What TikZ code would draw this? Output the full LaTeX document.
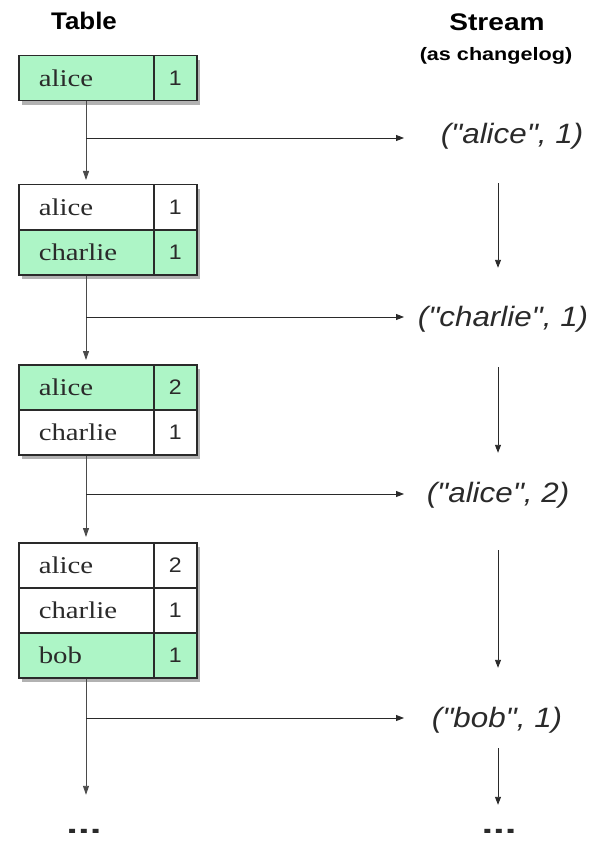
\documentclass[tikz,border=0pt]{standalone}
\usepackage{fontspec}
\setmainfont{Liberation Sans}
\newfontfamily\namefont{Liberation Serif}
\newfontfamily\evtfont[Ligatures=TeXOff]{Liberation Sans}
\usepackage{graphicx}
\usetikzlibrary{arrows.meta,shadows}
\definecolor{mint}{HTML}{ADF5C6}
\definecolor{ink}{HTML}{2A2A2A}
\newcommand\cellname[1]{\scalebox{1.2}[1]{\namefont\fontsize{24}{24}\selectfont #1}}
\newcommand\cellval[1]{\scalebox{1.1}[1]{\fontsize{21}{21}\selectfont #1}}
\newcommand\evtext[1]{\scalebox{1.12}[1]{\evtfont\fontsize{28}{28}\selectfont\itshape #1}}
\newcommand\dotstext{\scalebox{1.5}[1]{\fontsize{28}{28}\selectfont\bfseries ...}}
\begin{document}
\begin{tikzpicture}[x=1pt,y=-1pt,
  tbox/.style={fill=white, draw=ink, line width=1.5pt, inner sep=0pt,
    minimum width=178pt, anchor=north west,
    drop shadow={shadow xshift=3pt, shadow yshift=-4pt, opacity=0.3, fill=black}},
  ncell/.style={anchor=north west, draw=ink, line width=1.5pt,
    minimum width=135pt, minimum height=45pt, inner xsep=20pt, inner ysep=0pt,
    text width=95pt, align=left, text=ink},
  vcell/.style={anchor=north west, draw=ink, line width=1.5pt,
    minimum width=43pt, minimum height=45pt, inner sep=0pt, align=center, text=ink},
  evt/.style={inner sep=0pt, text height=21pt, text depth=7pt, text=ink},
  dotsnode/.style={inner sep=0pt, text height=4pt, text depth=0pt, text=ink},
  arr/.style={draw=ink, line width=0.9pt, -{Triangle[length=8pt,width=6pt]}},
  hl/.style={draw=ink!85, line width=0.9pt, -{Triangle[length=9pt,width=6pt]}}]
\useasboundingbox (0,0) rectangle (589,842);

% headings
\node (htable) at (84,21) {\scalebox{1.08}[1]{\fontsize{24}{24}\selectfont\bfseries Table}};
\node (hstream) at (497,22) {\scalebox{1.17}[1]{\fontsize{24}{24}\selectfont\bfseries Stream}};
\node (hlog) at (496,56) {\scalebox{1.2}[1]{\fontsize{18}{18}\selectfont\bfseries (as changelog)}};

% helper coordinates
\coordinate (vx) at (86,0);
\coordinate (sx) at (498,0);
\coordinate (ax) at (404,0);
\coordinate (j1) at (86,138);
\coordinate (j2) at (86,317);
\coordinate (j3) at (86,494);
\coordinate (j4) at (86,718);

% table 1
\node[tbox, minimum height=45pt] (t1) at (18,55) {};
\node[ncell, fill=mint] (t1a) at (18,55) {\cellname{alice}};
\node[vcell, fill=mint] (t1av) at (153,55) {\cellval{1}};

% table 2
\node[tbox, minimum height=90pt] (t2) at (18,184) {};
\node[ncell, fill=white] (t2a) at (18,184) {\cellname{alice}};
\node[vcell, fill=white] (t2av) at (153,184) {\cellval{1}};
\node[ncell, fill=mint] (t2b) at (18,229) {\cellname{charlie}};
\node[vcell, fill=mint] (t2bv) at (153,229) {\cellval{1}};

% table 3
\node[tbox, minimum height=90pt] (t3) at (18,364) {};
\node[ncell, fill=mint] (t3a) at (18,364) {\cellname{alice}};
\node[vcell, fill=mint] (t3av) at (153,364) {\cellval{2}};
\node[ncell, fill=white] (t3b) at (18,409) {\cellname{charlie}};
\node[vcell, fill=white] (t3bv) at (153,409) {\cellval{1}};

% table 4
\node[tbox, minimum height=135pt] (t4) at (18,542) {};
\node[ncell, fill=white] (t4a) at (18,542) {\cellname{alice}};
\node[vcell, fill=white] (t4av) at (153,542) {\cellval{2}};
\node[ncell, fill=white] (t4b) at (18,587) {\cellname{charlie}};
\node[vcell, fill=white] (t4bv) at (153,587) {\cellval{1}};
\node[ncell, fill=mint] (t4c) at (18,632) {\cellname{bob}};
\node[vcell, fill=mint] (t4cv) at (153,632) {\cellval{1}};

% stream events
\node[evt] (s1) at (512,137) {\evtext{("alice", 1)}};
\node[evt] (s2) at (503,319) {\evtext{("charlie", 1)}};
\node[evt] (s3) at (498,495) {\evtext{("alice", 2)}};
\node[evt] (s4) at (497,720) {\evtext{("bob", 1)}};

% dots
\node[dotsnode] (d1) at (84,831) {\dotstext};
\node[dotsnode] (d2) at (499,831) {\dotstext};

% table column connectors
\draw[hl, shorten >=4pt] (t1.south -| vx) -- (t2.north -| vx);
\draw[hl, shorten >=4pt] (t2.south -| vx) -- (t3.north -| vx);
\draw[hl, shorten >=5pt] (t3.south -| vx) -- (t4.north -| vx);
\draw[hl, shorten >=34pt] (t4.south -| vx) -- (d1.north -| vx);

% branches to stream
\draw[arr] (j1) -- (j1 -| ax);
\draw[arr] (j2) -- (j2 -| ax);
\draw[arr] (j3) -- (j3 -| ax);
\draw[arr] (j4) -- (j4 -| ax);

% stream column connectors
\draw[arr, shorten <=32pt, shorten >=37pt] (s1.south -| sx) -- (s2.north -| sx);
\draw[arr, shorten <=34pt, shorten >=28pt] (s2.south -| sx) -- (s3.north -| sx);
\draw[arr, shorten <=41pt, shorten >=38pt] (s3.south -| sx) -- (s4.north -| sx);
\draw[arr, shorten <=14pt, shorten >=24pt] (s4.south -| sx) -- (d2.north -| sx);
\end{tikzpicture}
\end{document}
